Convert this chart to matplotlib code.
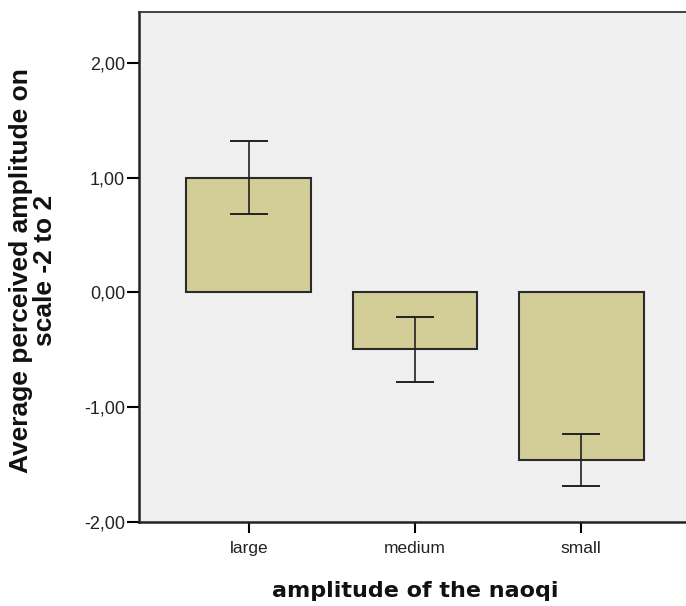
import matplotlib
matplotlib.use("Agg")
import matplotlib.pyplot as plt
import numpy as np

# data
groups = ["large", "medium", "small"]
means = [1.00, -0.49, -1.46]
ci_low = [0.68, -0.78, -1.69]
ci_high = [1.32, -0.21, -1.23]
yticks = [-2, -1, 0, 1, 2]
ytick_labels = ["-2,00", "-1,00", "0,00", "1,00", "2,00"]

fig = plt.figure(figsize=(6.86, 6.06), dpi=100)
ax = fig.add_axes([0.2026, 0.1386, 0.7974, 0.8416])
ax.set_facecolor("#f0f0f0")

x = np.arange(len(groups))
err = [np.array(means) - np.array(ci_low), np.array(ci_high) - np.array(means)]
ax.bar(x, means, width=0.75, color="#d3ce97", edgecolor="#2a2a2a", linewidth=1.5, zorder=2)
ax.errorbar(x, means, yerr=err, fmt="none", ecolor="#222222", elinewidth=1.2,
            capsize=14, capthick=1.4, zorder=3)

ax.set_xlim(-0.66, 2.63)
ax.set_ylim(-2.0, 2.443)
ax.set_xticks(x)
ax.set_xticklabels(groups, fontsize=12.5, family="Liberation Sans", color="#222222")
ax.set_yticks(yticks)
ax.set_yticklabels(ytick_labels, fontsize=13, family="Liberation Sans", color="#222222")
ax.tick_params(axis="y", length=9, width=1.5, pad=1)
ax.tick_params(axis="x", length=8, width=1.5, pad=6)

for side in ["left", "bottom"]:
    ax.spines[side].set_linewidth(1.8)
    ax.spines[side].set_color("#222222")
ax.spines["top"].set_linewidth(1.3)
ax.spines["top"].set_color("#333333")
ax.spines["right"].set_visible(False)

ax.set_ylabel("Average perceived amplitude on\nscale -2 to 2", fontsize=19,
              fontweight="bold", family="Liberation Sans", linespacing=1.0, color="#111111")
ax.yaxis.set_label_coords(-0.15, 0.493)
ax.set_xlabel("amplitude of the naoqi", fontsize=16, fontweight="bold",
              family="DejaVu Sans", color="#111111")
ax.xaxis.set_label_coords(0.505, -0.115)

fig.savefig("out.png", dpi=100)
